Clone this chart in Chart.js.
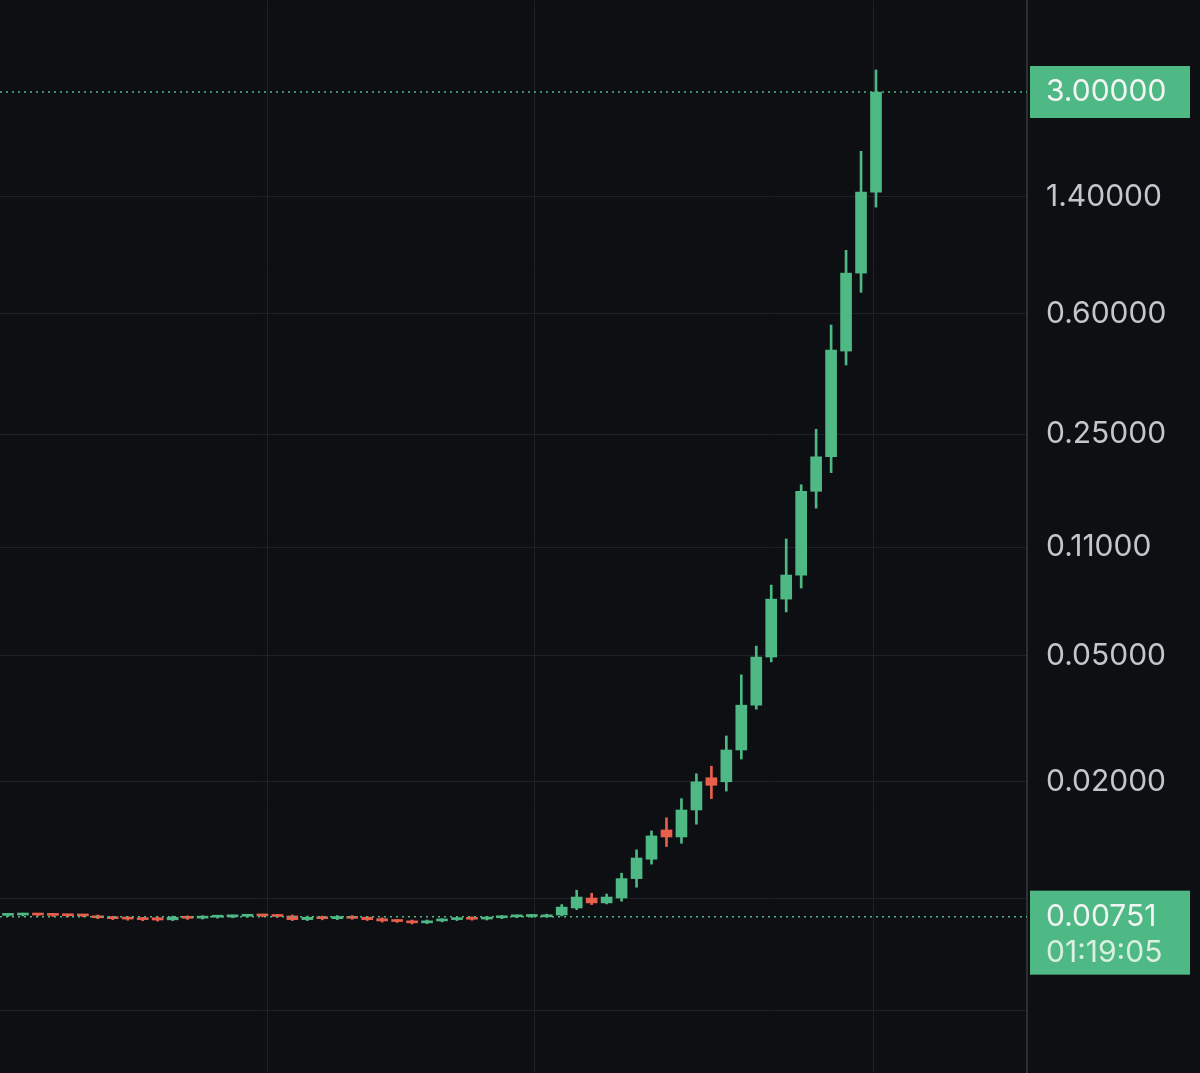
<!DOCTYPE html>
<html>
<head>
<meta charset="utf-8">
<script src="https://cdn.jsdelivr.net/npm/chart.js@4/dist/chart.umd.min.js"></script>
<style>
  html, body { margin: 0; background: #0d0f12; overflow: hidden; }
  #wrap { width: 1200px; height: 1145px; margin-top: -36px; }
</style>
</head>
<body>
<div id="wrap"><canvas id="chart"></canvas></div>
<script>
// candle data
const opens  = [.00758,.00760,.00764,.00762,.00760,.00757,.00755,.00748,.00745,.00742,.00745,.00734,.00750,.00743,.00748,.00750,.00753,.00758,.00758,.00755,
                .00735,.00750,.00740,.00752,.00748,.00740,.00730,.00728,.00718,.00728,.00735,.00745,.00738,.00745,.00750,.00752,.0075,.0076,.0080,
                .0086,.0083,.0086,.0099,.0114,.0141,.0134,.0163,.0206,.0200,.0252,.0349,.0495,.0754,.0898,.165,.212,.457,.805,1.45];
const closes = [.00762,.00764,.00760,.00758,.00756,.00755,.00745,.00740,.00738,.00735,.00733,.00748,.00742,.00750,.00752,.00755,.00757,.00755,.00752,.00735,
                .00748,.00740,.00752,.00742,.00735,.00728,.00725,.00718,.00728,.00735,.00742,.00737,.00748,.00752,.00755,.00758,.0076,.00805,.00866,
                .0083,.00866,.0099,.0115,.0135,.0134,.0163,.0200,.0195,.0252,.0349,.0495,.0754,.0898,.165,.212,.46,.805,1.45,3.0];
const highs  = [.00768,.00770,.00768,.00766,.00763,.00761,.00760,.00753,.00750,.00747,.00750,.00754,.00755,.00756,.00758,.00760,.00763,.00763,.00762,.00760,
                .00754,.00754,.00757,.00757,.00752,.00745,.00735,.00733,.00733,.00740,.00747,.00750,.00753,.00757,.00760,.00763,.00765,.0082,.0091,
                .0089,.00885,.0103,.0122,.0140,.0154,.0177,.0212,.0224,.0279,.0435,.0536,.0835,.1167,.173,.259,.552,.95,1.95,3.52];
const lows   = [.00752,.00755,.00755,.00752,.00750,.00750,.00740,.00735,.00732,.00729,.00727,.00730,.00736,.00738,.00743,.00745,.00748,.00750,.00748,.00730,
                .00730,.00734,.00735,.00737,.00730,.00722,.00720,.00712,.00714,.00723,.00730,.00732,.00733,.00740,.00745,.00747,.00748,.00755,.0079,
                .0082,.00824,.0084,.0093,.0110,.0125,.0128,.0147,.0177,.0187,.0236,.0339,.0478,.0687,.0817,.146,.189,.413,.70,1.30];
const tickValues = [0.0038, 0.0086, 0.02, 0.05, 0.11, 0.25, 0.6, 1.4];
const tickLabels = ['', '', '0.02000', '0.05000', '0.11000', '0.25000', '0.60000', '1.40000'];
const vGridAt = [17.37, 35.21, 57.8];
const topPrice = 3.0, lastPrice = 0.00751, countdown = '01:19:05';

const GREEN = '#4fb985', RED = '#e8604c', GRID = '#1e2125';
const FONT = 'Inter, "Noto Sans", sans-serif';
const idx = opens.map((_, i) => i);
const colors = idx.map(i => closes[i] >= opens[i] ? GREEN : RED);

// dotted price lines and green price tags on the right axis
const priceTags = {
  id: 'priceTags',
  afterDatasetsDraw(chart) {
    const { ctx, chartArea, scales: { y } } = chart;
    const tags = [
      { v: topPrice, lines: ['3.00000'] },
      { v: lastPrice, lines: ['0.00751', countdown] }
    ];
    ctx.save();
    tags.forEach(t => {
      const py = y.getPixelForValue(t.v);
      ctx.strokeStyle = GREEN; ctx.lineWidth = 1.5; ctx.setLineDash([2, 4]);
      ctx.beginPath(); ctx.moveTo(0, py); ctx.lineTo(chartArea.right, py); ctx.stroke();
      ctx.setLineDash([]);
      const h = t.lines.length === 1 ? 52 : 84;
      ctx.fillStyle = GREEN;
      ctx.fillRect(chartArea.right + 3, py - 26, 160, h);
      ctx.font = '30px ' + FONT;
      ctx.textBaseline = 'middle';
      t.lines.forEach((s, k) => {
        ctx.fillStyle = k === 0 ? '#f2f5f3' : '#d8efe2';
        ctx.fillText(s, chartArea.right + 19, py + k * 36);
      });
    });
    ctx.restore();
  }
};

new Chart(document.getElementById('chart'), {
  type: 'bar',
  data: {
    datasets: [
      { data: idx.map(i => ({ x: i, y: [lows[i], highs[i]] })), backgroundColor: colors, barThickness: 2, order: 2 },
      { data: idx.map(i => ({ x: i, y: [opens[i], closes[i]] })), backgroundColor: colors, barThickness: 11, minBarLength: 2, order: 1 }
    ]
  },
  options: {
    responsive: true, maintainAspectRatio: false, animation: false,
    layout: { padding: 0 },
    datasets: { bar: { grouped: false } },
    plugins: { legend: { display: false }, tooltip: { enabled: false } },
    scales: {
      x: {
        type: 'linear', min: -0.535, max: 68.09, offset: false,
        afterBuildTicks: s => { s.ticks = vGridAt.map(v => ({ value: v })); },
        afterFit: s => { s.height = 0; },
        ticks: { display: false },
        grid: { color: GRID, drawTicks: false, offset: false },
        border: { display: false }
      },
      y: {
        type: 'logarithmic', position: 'right', min: 0.00243, max: 5.81,
        afterBuildTicks: s => { s.ticks = tickValues.map(v => ({ value: v })); },
        afterFit: s => { s.width = 173; },
        ticks: {
          color: '#c3c7cc', padding: 19,
          font: { size: 30, family: FONT },
          callback: (v) => tickLabels[tickValues.indexOf(v)] ?? ''
        },
        grid: { color: GRID, drawTicks: false },
        border: { color: '#2c3035', width: 2 }
      }
    }
  },
  plugins: [priceTags]
});
</script>
</body>
</html>
